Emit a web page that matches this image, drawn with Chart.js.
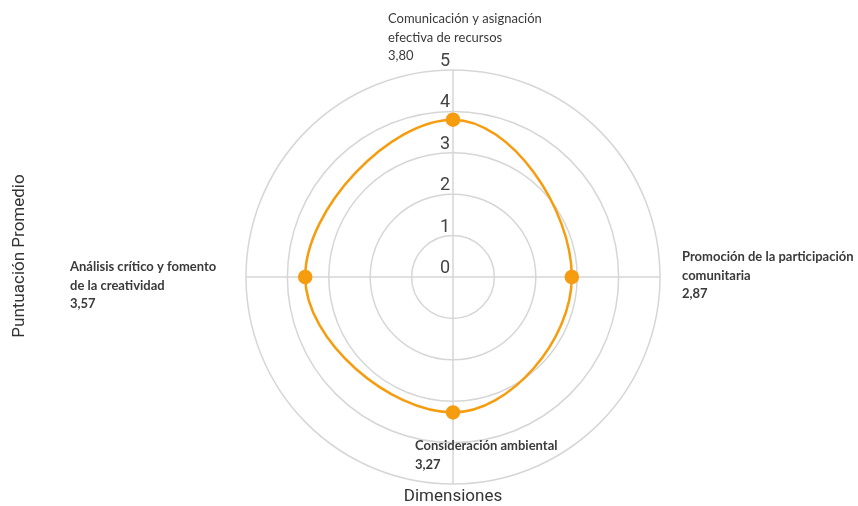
<!DOCTYPE html>
<html>
<head>
<meta charset="utf-8">
<script src="https://cdn.jsdelivr.net/npm/chart.js@4.4.1/dist/chart.umd.min.js"></script>
<style>
  html, body { margin: 0; padding: 0; background: #fff; }
  #wrap { width: 858px; height: 506px; position: relative; }
</style>
</head>
<body>
<div id="wrap"><canvas id="chart" width="858" height="506"></canvas></div>
<script>
// --- Data ---
const categories = [
  ['Comunicación y asignación', 'efectiva de recursos'],
  ['Promoción de la participación', 'comunitaria'],
  ['Consideración ambiental'],
  ['Análisis crítico y fomento', 'de la creatividad']
];
const values = [3.80, 2.87, 3.27, 3.57];
const tickValues = [0, 1, 2, 3, 4, 5];
const xTitle = 'Dimensiones';
const yTitle = 'Puntuación Promedio';

const ORANGE = '#f59c0f';
const GRID = '#d6d6d6';
const TEXT = '#3a3a3a';

const fmt = (n) => n.toFixed(2).replace('.', ',');

// label weight + side of the chart it sits on
const labelStyle = [
  { bold: false, anchor: 'top' },
  { bold: true, anchor: 'right' },
  { bold: true, anchor: 'bottom' },
  { bold: true, anchor: 'left' }
];

// --- Custom plugin: tick numbers, point labels, axis titles ---
const decorPlugin = {
  id: 'decor',
  afterDraw(chart) {
    const { ctx } = chart;
    const r = chart.scales.r;
    const cx = r.xCenter, cy = r.yCenter;
    ctx.save();

    // tick numbers, above each ring, left of vertical line
    ctx.font = '18px Roboto, sans-serif';
    ctx.fillStyle = '#444';
    ctx.textAlign = 'right';
    ctx.textBaseline = 'alphabetic';
    tickValues.forEach(v => {
      const d = r.getDistanceFromCenterForValue(v);
      ctx.fillText(String(v), cx - 3, cy - d - 4);
    });

    // point labels
    const lh = 18.5;
    ctx.textAlign = 'left';
    ctx.textBaseline = 'middle';
    const outer = r.getDistanceFromCenterForValue(5);
    categories.forEach((lines, i) => {
      const st = labelStyle[i];
      const all = lines.concat([fmt(values[i])]);
      ctx.font = (st.bold ? '700 ' : '400 ') + '13px Lato, sans-serif';
      ctx.fillStyle = TEXT;
      let x, y;
      if (st.anchor === 'top') { x = cx - 65; y = cy - outer - 51; }
      else if (st.anchor === 'right') { x = cx + outer + 22; y = cy - 20; }
      else if (st.anchor === 'bottom') { x = cx - 38; y = cy + 169; }
      else { x = cx - outer - 176; y = cy - 10; }
      all.forEach((t, k) => ctx.fillText(t, x, y + k * lh));
    });

    // axis titles
    ctx.font = '17px Roboto, sans-serif';
    ctx.fillStyle = '#333';
    ctx.textAlign = 'center';
    ctx.textBaseline = 'middle';
    ctx.fillText(xTitle, cx, 497);
    ctx.translate(20, 256);
    ctx.rotate(-Math.PI / 2);
    ctx.fillText(yTitle, 0, 0);
    ctx.restore();
  }
};

new Chart(document.getElementById('chart').getContext('2d'), {
  type: 'radar',
  data: {
    labels: categories,
    datasets: [{
      data: values,
      borderColor: ORANGE,
      backgroundColor: ORANGE,
      pointBackgroundColor: ORANGE,
      pointBorderColor: ORANGE,
      borderWidth: 2.5,
      pointRadius: 6,
      fill: false,
      tension: 0.45
    }]
  },
  options: {
    responsive: false,
    animation: false,
    layout: { padding: { top: 70, bottom: 22, left: 100, right: 52 } },
    plugins: { legend: { display: false }, tooltip: { enabled: false } },
    scales: {
      r: {
        min: 0,
        max: 5,
        ticks: { display: false, stepSize: 1 },
        pointLabels: { display: false },
        grid: { circular: true, color: GRID, lineWidth: 1.5 },
        angleLines: { color: GRID, lineWidth: 1.5 }
      }
    }
  },
  plugins: [decorPlugin]
});
</script>
</body>
</html>
